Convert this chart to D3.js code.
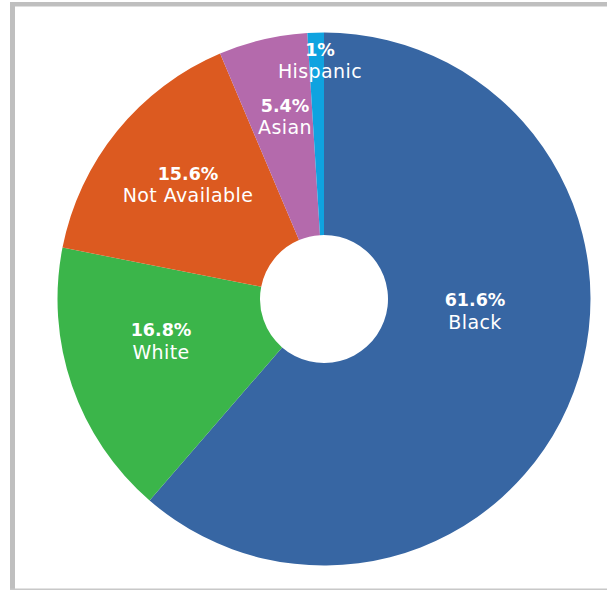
<!DOCTYPE html>
<html>
<head>
<meta charset="utf-8">
<script src="https://cdn.jsdelivr.net/npm/d3@7"></script>
<style>
  html, body { margin: 0; padding: 0; background: #fff; }
  svg { display: block; }
</style>
</head>
<body>
<svg id="chart" width="607" height="590"></svg>
<script>
// ---- data ----
const categories = ["Black", "White", "Not Available", "Asian", "Hispanic"];
const values = [61.6, 16.8, 15.6, 5.4, 1];
const valueLabels = ["61.6%", "16.8%", "15.6%", "5.4%", "1%"];
const colors = ["#3766a3", "#3bb54a", "#dc5a20", "#b46aac", "#0fa3e0"];

// ---- layout (styling/positions, not data) ----
const cx = 324, cy = 299, outerR = 266.5, innerR = 64;
// label anchor offsets relative to centre (px)
const labelOffsets = {
  "Black": [151, 18],
  "White": [-163, 48],
  "Not Available": [-136, -108.5],
  "Asian": [-39, -176.5],
  "Hispanic": [-4, -232.5]
};

const svg = d3.select("#chart");

// frame lines
svg.append("rect").attr("x", 10).attr("y", 2).attr("width", 597).attr("height", 4.5).attr("fill", "#bfbfbf");
svg.append("rect").attr("x", 10).attr("y", 2).attr("width", 5).attr("height", 588).attr("fill", "#bfbfbf");
svg.append("rect").attr("x", 10).attr("y", 588.5).attr("width", 597).attr("height", 1.5).attr("fill", "#c8c8c8");

const data = categories.map((c, i) => ({ cat: c, value: values[i], label: valueLabels[i], color: colors[i] }));

const pie = d3.pie().value(d => d.value).sort(null).startAngle(0).endAngle(2 * Math.PI);
const arc = d3.arc().innerRadius(innerR).outerRadius(outerR);

const g = svg.append("g").attr("transform", `translate(${cx},${cy})`);

g.selectAll("path.slice")
  .data(pie(data))
  .join("path")
  .attr("class", "slice")
  .attr("d", arc)
  .attr("fill", d => d.data.color);

const lab = g.selectAll("g.lab")
  .data(pie(data))
  .join("g")
  .attr("class", "lab")
  .attr("transform", d => {
    const o = labelOffsets[d.data.cat];
    return `translate(${o[0]},${o[1]})`;
  });

lab.append("text")
  .attr("text-anchor", "middle")
  .attr("y", -11)
  .attr("fill", "#fff")
  .attr("font-family", "'DejaVu Sans', sans-serif")
  .attr("font-weight", "bold")
  .attr("font-size", 17.5)
  .text(d => d.data.label);

lab.append("text")
  .attr("text-anchor", "middle")
  .attr("y", 11.5)
  .attr("fill", "#fff")
  .attr("font-family", "'DejaVu Sans', sans-serif")
  .attr("font-size", 19)
  .attr("letter-spacing", 0.4)
  .text(d => d.data.cat);
</script>
</body>
</html>
